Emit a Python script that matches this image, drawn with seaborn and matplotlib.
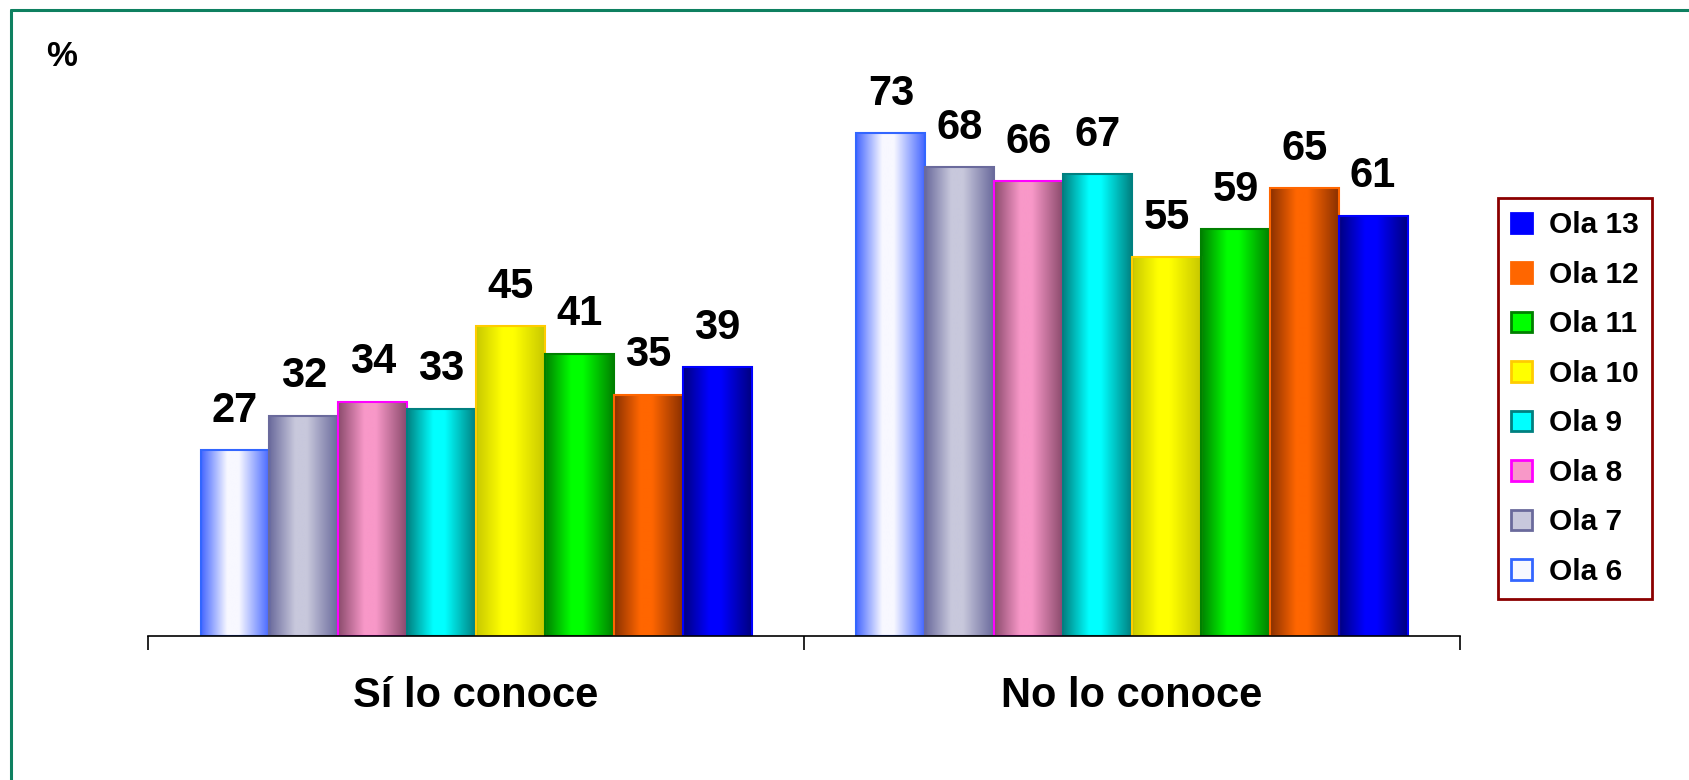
import numpy as np
import pandas as pd
import seaborn as sns
import matplotlib.pyplot as plt
from matplotlib.colors import LinearSegmentedColormap
from matplotlib.lines import Line2D
from matplotlib.patches import Patch

categorias = ["Sí lo conoce", "No lo conoce"]
olas = ["Ola 6", "Ola 7", "Ola 8", "Ola 9", "Ola 10", "Ola 11", "Ola 12", "Ola 13"]
si_conoce = [27, 32, 34, 33, 45, 41, 35, 39]
no_conoce = [73, 68, 66, 67, 55, 59, 65, 61]

# colores: borde oscuro, centro claro (efecto cilindro), contorno
centro = ["#f8f8ff", "#c8c8dc", "#f898c8", "#00ffff", "#ffff00", "#00ff00", "#ff6600", "#0000ff"]
lado = ["#4466ff", "#6a6a9c", "#8a4a6c", "#008080", "#c8c800", "#008000", "#8a3000", "#000080"]
contorno = ["#3366ff", "#6a6a9c", "#ff00ff", "#008080", "#ffcc00", "#008000", "#ff6600", "#0000ff"]


def main():
    sns.set_theme(style="white")
    plt.rcParams["font.family"] = ["Liberation Sans", "DejaVu Sans"]
    plt.rcParams["font.weight"] = "bold"
    plt.rcParams["text.color"] = "black"
    plt.rcParams["xtick.color"] = "black"
    plt.rcParams["xtick.labelcolor"] = "black"

    df = pd.DataFrame({
        "categoria": [categorias[0]] * len(olas) + [categorias[1]] * len(olas),
        "ola": olas * 2,
        "valor": si_conoce + no_conoce,
    })

    fig = plt.figure(figsize=(16.9, 7.8), dpi=100)
    ax = fig.add_axes([0.0876, 0.1846, 0.7763, 0.7067])
    sns.barplot(df, x="categoria", y="valor", hue="ola", hue_order=olas,
                palette=centro, width=0.84, gap=0, saturation=1, ax=ax,
                err_kws={"linewidth": 0})

    grad = np.linspace(0, 1, 256).reshape(1, -1)
    for i, cont in enumerate(ax.containers):
        cmap = LinearSegmentedColormap.from_list(
            f"c{i}", [(0, lado[i]), (0.38, centro[i]), (0.55, centro[i]), (1, lado[i])])
        for bar in cont:
            x, w, h = bar.get_x(), bar.get_width(), bar.get_height()
            img = ax.imshow(grad, extent=[x, x + w, 0, h], cmap=cmap,
                            aspect="auto", zorder=1, interpolation="bilinear")
            img.set_clip_path(bar)
            bar.set_facecolor("none")
            bar.set_edgecolor(contorno[i])
            bar.set_linewidth(1.5)
            bar.set_zorder(2)
        ax.bar_label(cont, labels=[f"{v:.0f}" for v in cont.datavalues],
                     padding=14, fontsize=30, fontweight="bold", color="black")

    ax.set_xlim(-0.5, 1.5)
    ax.set_ylim(0, 80)
    ax.set_xlabel("")
    ax.set_ylabel("")
    ax.set_yticks([])
    for s in ["top", "right", "left"]:
        ax.spines[s].set_visible(False)
    ax.spines["bottom"].set_color("black")
    ax.spines["bottom"].set_linewidth(1.2)
    ax.tick_params(axis="x", which="major", length=0, pad=29, labelsize=30)
    ax.set_xticks([-0.5, 0.5, 1.5], minor=True)
    ax.tick_params(axis="x", which="minor", length=10, width=1.2,
                   color="black", direction="out", bottom=True)
    for t in ax.get_xticklabels():
        t.set_fontweight("bold")

    ax.legend_.remove()
    handles = [Patch(facecolor=centro[i], edgecolor=contorno[i], linewidth=2)
               for i in range(len(olas))][::-1]
    leg = fig.legend(handles, olas[::-1], loc="upper left",
                     bbox_to_anchor=(1498 / 1690, 1 - 198 / 780),
                     borderaxespad=0, labelspacing=0.72,
                     handlelength=0.7, handleheight=0.7, handletextpad=0.55,
                     borderpad=0.45, fancybox=False, framealpha=1,
                     prop={"weight": "bold", "size": 21.5})
    leg.get_frame().set_edgecolor("#8b0000")
    leg.get_frame().set_linewidth(2)

    fig.text(62 / 1690, 1 - 57 / 780, "%", ha="center", va="center",
             fontsize=25, fontweight="bold")
    # marco verde: solo arriba e izquierda quedan dentro de la imagen
    y_top = 1 - 10 / 780
    x_left = 11 / 1690
    fig.add_artist(Line2D([x_left, 1], [y_top, y_top], transform=fig.transFigure,
                          color="#0e8060", linewidth=2.2))
    fig.add_artist(Line2D([x_left, x_left], [0, y_top], transform=fig.transFigure,
                          color="#0e8060", linewidth=2.2))

    fig.savefig("out.png", dpi=100)


if __name__ == "__main__":
    main()
